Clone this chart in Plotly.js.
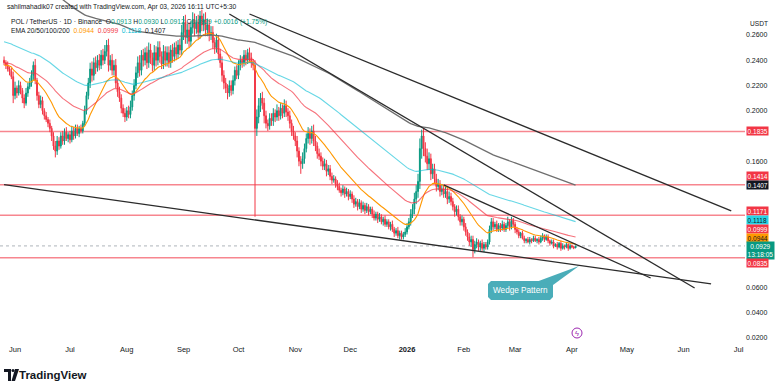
<!DOCTYPE html>
<html><head><meta charset="utf-8">
<script src="https://cdn.plot.ly/plotly-3.0.1.min.js"></script>
<style>html,body{margin:0;padding:0;background:#fff;}#chart{width:783px;height:388px;}</style>
</head><body><div id="chart"></div>
<script>
// ---- data (daily, from 2025-05-26) ----
const startDate = '2025-05-26';
const firstOpen = 0.240;
const closes = [
0.238,0.236,0.233,0.231,0.227,0.212,0.218,0.214,0.220,0.216,
0.210,0.206,0.214,0.219,0.222,0.228,0.236,0.224,0.212,0.205,
0.208,0.200,0.196,0.193,0.190,0.186,0.180,0.172,0.168,0.176,
0.172,0.180,0.176,0.183,0.178,0.181,0.177,0.184,0.180,0.186,
0.182,0.186,0.184,0.190,0.200,0.212,0.222,0.233,0.228,0.238,
0.234,0.240,0.236,0.244,0.240,0.247,0.252,0.236,0.240,0.232,
0.236,0.222,0.215,0.210,0.202,0.198,0.195,0.200,0.197,0.203,
0.212,0.220,0.230,0.238,0.232,0.244,0.240,0.246,0.238,0.248,
0.242,0.236,0.246,0.240,0.250,0.243,0.237,0.247,0.240,0.246,
0.238,0.248,0.243,0.250,0.245,0.252,0.248,0.262,0.270,0.258,
0.264,0.255,0.266,0.272,0.265,0.270,0.262,0.275,0.268,0.272,
0.264,0.268,0.260,0.262,0.254,0.250,0.256,0.245,0.238,0.228,
0.222,0.218,0.214,0.220,0.216,0.224,0.232,0.228,0.236,0.240,
0.238,0.244,0.240,0.246,0.242,0.238,0.236,0.186,0.195,0.204,
0.210,0.206,0.196,0.190,0.188,0.194,0.192,0.198,0.195,0.200,
0.196,0.202,0.198,0.204,0.199,0.196,0.190,0.184,0.180,0.176,
0.168,0.160,0.158,0.162,0.170,0.178,0.182,0.178,0.184,0.176,
0.172,0.166,0.164,0.160,0.156,0.158,0.152,0.154,0.148,0.145,
0.146,0.142,0.140,0.137,0.135,0.138,0.134,0.136,0.132,0.134,
0.130,0.126,0.128,0.124,0.127,0.122,0.125,0.121,0.124,0.120,
0.122,0.118,0.115,0.118,0.114,0.116,0.112,0.114,0.110,0.112,
0.108,0.110,0.106,0.103,0.105,0.101,0.103,0.100,0.102,0.104,
0.108,0.112,0.118,0.122,0.130,0.136,0.144,0.170,0.180,0.170,
0.164,0.158,0.162,0.150,0.154,0.146,0.140,0.142,0.136,0.138,
0.134,0.136,0.130,0.132,0.128,0.124,0.120,0.122,0.116,0.112,
0.114,0.108,0.104,0.100,0.096,0.098,0.090,0.094,0.096,0.092,
0.095,0.091,0.094,0.092,0.096,0.106,0.112,0.108,0.110,0.106,
0.109,0.107,0.110,0.106,0.109,0.112,0.108,0.113,0.110,0.106,
0.104,0.101,0.103,0.099,0.097,0.098,0.096,0.098,0.097,0.099,
0.097,0.098,0.096,0.099,0.101,0.098,0.100,0.097,0.095,0.096,
0.093,0.094,0.092,0.095,0.091,0.093,0.092,0.094,0.091,0.093,
0.092,0.0913,0.0929];
// upper / lower wick lengths, in thousandths
const upWick = [
3,2,3,2,3,4,5,2,4,3, 2,3,4,3,4,4,3,5,2,3, 4,3,2,3,2,3,2,3,4,4, 3,3,4,3,4,2,3,4,3,3,
3,2,3,2,4,3,4,5,6,4, 5,4,5,4,5,5,4,5,4,5, 4,5,3,4,3,3,4,3,4,5, 4,5,5,5,6,4,5,4,5,6,
5,4,6,5,5,5,4,5,4,5, 5,4,5,4,5,4,5,6,5,6, 5,6,5,6,5,5,6,4,5,5, 6,5,4,5,5,4,5,4,4,5,
4,4,3,4,4,4,3,4,4,4, 3,4,4,3,4,4,3,4,6,6, 4,5,4,4,3,4,4,4,3,5, 3,4,3,5,4,3,4,3,4,3,
4,3,4,5,4,4,5,4,4,5, 4,3,4,3,3,4,3,3,3,3, 3,2,3,3,2,3,2,3,2,3, 2,3,3,2,3,2,3,2,3,2,
2,2,3,2,2,3,2,2,3,2, 2,2,3,2,2,3,2,2,2,3, 3,3,4,4,5,5,6,8,5,6, 5,6,5,4,4,4,4,4,3,4,
3,4,3,4,3,3,2,3,3,2, 3,2,3,2,3,3,3,3,3,2, 2,3,2,2,2,3,3,3,2,3, 2,2,3,2,2,4,2,3,2,2,
2,2,1,2,2,1,2,2,1,2, 2,1,2,2,2,1,2,2,1,2, 2,1,2,1,2,2,1,2,1,2, 1,1,0.1];
const lowWick = [
2,3,2,3,2,6,3,4,2,3, 4,4,2,3,2,3,4,3,4,3, 3,3,3,2,3,3,4,3,5,3, 3,2,3,3,2,3,3,2,3,2,
2,3,2,2,2,3,3,4,5,4, 5,3,4,3,4,3,4,5,4,4, 4,4,4,3,4,3,4,3,3,3, 3,4,3,4,5,4,5,4,5,4,
5,5,4,5,4,5,4,4,5,5, 4,4,5,4,5,4,4,4,6,5, 5,5,4,5,6,4,5,5,5,5, 5,5,5,4,5,5,4,5,4,5,
5,4,5,3,4,3,4,3,3,4, 4,3,4,3,4,4,4,70,6,5, 5,5,6,4,4,3,4,4,4,3, 4,3,4,3,4,4,4,4,3,4,
5,4,8,4,4,3,4,5,4,4, 4,4,3,4,3,3,4,3,3,3, 2,3,3,2,3,2,3,2,3,2, 3,3,2,3,2,3,2,3,2,3,
2,3,2,2,3,2,2,3,2,2, 2,3,2,3,2,2,3,2,2,2, 2,2,3,3,4,4,5,6,8,6, 5,5,5,5,4,4,4,3,4,3,
3,3,4,3,3,3,4,3,3,3, 3,3,3,3,3,4,6,3,3,3, 3,2,3,2,2,2,3,3,2,2, 2,3,2,2,2,2,3,2,2,3,
2,2,2,1,2,2,1,2,2,1, 1,2,2,1,2,2,1,2,2,1, 2,1,2,1,2,1,2,1,2,1, 1,1,0.1];
// EMA starting values
const emaPeriods = [20, 50, 100, 200];
const emaSeeds = [0.236, 0.238, 0.255, 0.32];
const emaColors = ['#ff9800', 'rgba(242,54,69,0.7)', 'rgba(0,188,212,0.6)', '#6e6e6e'];
// horizontal levels
const levels = [0.1835, 0.1414, 0.1171, 0.0835];
// trend lines
const tlStartDates = ['2025-05-26', '2025-10-07', '2025-09-26', '2026-01-21'];
const tlStartPrices = [0.1414, 0.2766, 0.2766, 0.1412];
const tlEndDates = ['2026-06-16', '2026-06-27', '2026-06-07', '2026-05-14'];
const tlEndPrices = [0.0628, 0.1206, 0.0596, 0.0675];
const yTicks = [0.02,0.04,0.06,0.16,0.20,0.22,0.24,0.26];
const monthTicks = ['2025-06-01','2025-07-01','2025-08-01','2025-09-01','2025-10-01','2025-11-01','2025-12-01','2026-01-01','2026-02-01','2026-03-01','2026-04-01','2026-05-01','2026-06-01','2026-07-01'];
const monthLabels = ['Jun','Jul','Aug','Sep','Oct','Nov','Dec','<b>2026</b>','Feb','Mar','Apr','May','Jun','Jul'];
const lastPrice = 0.0929;

// ---- build ----
const t0 = Date.UTC(2025,4,26);
const dates = closes.map((_, i) => new Date(t0 + i*86400000).toISOString().slice(0,10));
const opens = closes.map((c, i) => i === 0 ? firstOpen : closes[i-1]);
const highs = closes.map((c, i) => Math.max(c, opens[i]) + upWick[i]/1000);
const lows = closes.map((c, i) => Math.min(c, opens[i]) - lowWick[i]/1000);

const traces = [];
emaPeriods.forEach((n, k) => {
  const a = 2/(n+1); let e = emaSeeds[k]; const arr = [];
  closes.forEach(c => { e = a*c + (1-a)*e; arr.push(e); });
  traces.push({type:'scatter', mode:'lines', x:dates, y:arr, line:{color:emaColors[k], width: k===3?1.3:1.1}, hoverinfo:'skip'});
});
traces.push({type:'candlestick', x:dates, open:opens, high:highs, low:lows, close:closes,
  increasing:{line:{color:'#089981', width:1}, fillcolor:'#089981'},
  decreasing:{line:{color:'#f23645', width:1}, fillcolor:'#f23645'},
  whiskerwidth:0, hoverinfo:'skip'});
tlStartDates.forEach((d, k) => {
  traces.push({type:'scatter', mode:'lines', x:[d, tlEndDates[k]], y:[tlStartPrices[k], tlEndPrices[k]],
    line:{color:'#2b2b2b', width:1.3}, hoverinfo:'skip'});
});

const PW = 745, PH = 343;
const P = (px, py) => ({x: px/PW, y: 1 - py/PH});
const F = 'Liberation Sans, Arial, sans-serif';

const shapes = levels.map(v => ({type:'line', xref:'paper', x0:0, x1:1, yref:'y', y0:v, y1:v,
  line:{color:'rgba(242,54,69,0.6)', width:1.5}, layer:'below'}));
shapes.push({type:'line', xref:'paper', x0:0, x1:1, yref:'y', y0:lastPrice, y1:lastPrice,
  line:{color:'rgba(120,130,140,0.6)', width:1, dash:'dot'}, layer:'below'});
function pathPx(pts){ return 'M' + pts.map(p => { const q = P(p[0], p[1]); return q.x + ',' + q.y; }).join(' L') + ' Z'; }
shapes.push({type:'path', xref:'paper', yref:'paper', path: pathPx([[491,281],[550,281],[553,284],[553,297],[550,300],[491,300],[488,297],[488,284]]),
  fillcolor:'#4aadb9', line:{width:0}});
shapes.push({type:'path', xref:'paper', yref:'paper', path: pathPx([[536,282],[553,285],[579,266]]),
  fillcolor:'#4aadb9', line:{width:0}});
const c1 = P(572,328), c2 = P(582,338);
shapes.push({type:'circle', xref:'paper', yref:'paper', x0:c1.x, y0:c1.y, x1:c2.x, y1:c2.y, line:{color:'#9c27b0', width:1}, fillcolor:'#fff'});
shapes.push({type:'path', xref:'paper', yref:'paper', path: pathPx([[4,369],[11,369],[11,381],[8,381],[8,372],[4,372]]), fillcolor:'#131722', line:{width:0}});
shapes.push({type:'path', xref:'paper', yref:'paper', path: pathPx([[15,369],[19,369],[15,381],[11.5,381]]), fillcolor:'#131722', line:{width:0}});
const d1 = P(11.5,369), d2 = P(14.5,372);
shapes.push({type:'circle', xref:'paper', yref:'paper', x0:d1.x, y0:d1.y, x1:d2.x, y1:d2.y, fillcolor:'#131722', line:{width:0}});

const ann = [];
function txt(px, py, text, size, color, anchor, extra){
  const q = P(px, py);
  ann.push(Object.assign({xref:'paper', yref:'paper', x:q.x, y:q.y, text:text, showarrow:false,
    xanchor:anchor||'left', yanchor:'middle', font:{family:F, size:size, color:color||'#131722'}}, extra||{}));
}
const G = '#089981';
txt(5, 7, 'sahilmahadik07 created with TradingView.com, Apr 03, 2026 16:11 UTC+5:30', 6.7);
txt(9, 22, 'POL / TetherUS · 1D · Binance  O<span style="color:'+G+'">0.0913</span> H<span style="color:'+G+'">0.0930</span> L<span style="color:'+G+'">0.0912</span> C<span style="color:'+G+'">0.0929</span> <span style="color:'+G+'">+0.0016 (+1.75%)</span>', 6.7);
txt(9, 31, 'EMA 20/50/100/200  <span style="color:#ff9800">0.0944</span>  <span style="color:#f23645">0.0999</span>  <span style="color:#00bcd4">0.1118</span>  <span style="color:#131722">0.1407</span>', 6.7);
txt(770, 23, 'USDT', 6.6, '#131722', 'right');
txt(520.5, 290.5, 'Wedge Pattern', 8.2, '#ffffff', 'center');
txt(577, 333, 'ϟ', 7.5, '#9c27b0', 'center');
txt(17, 375, '<b>TradingView</b>', 11.5, '#131722');

// right axis price labels (target pixel centres)
const priceLabels = [
  {v:0.1835, t:'0.1835', bg:'#f23645', fc:'#fff', py:131.5},
  {v:0.1414, t:'0.1414', bg:'#f23645', fc:'#fff', py:176.5},
  {v:0.1407, t:'0.1407', bg:'#131722', fc:'#fff', py:185.5},
  {v:0.1171, t:'0.1171', bg:'#f23645', fc:'#fff', py:211.5},
  {v:0.1118, t:'0.1118', bg:'#26d4e6', fc:'#131722', py:220.5},
  {v:0.0999, t:'0.0999', bg:'#f23645', fc:'#fff', py:229.5},
  {v:0.0944, t:'0.0944', bg:'#ff9800', fc:'#131722', py:238.5},
  {v:0.0929, t:'0.0929<br>13:18:05', bg:'#089981', fc:'#fff', py:250.5},
  {v:0.0835, t:'0.0835', bg:'#f23645', fc:'#fff', py:263.5}
];
const yPix = v => 35 + (0.26 - v) * 1262.5;
priceLabels.forEach(l => ann.push({xref:'paper', x:1, xanchor:'left', xshift:1, yref:'y', y:l.v, yanchor:'middle',
  yshift: yPix(l.v) - l.py, text:l.t, showarrow:false, bgcolor:l.bg, borderpad:0.6, font:{family:F, size:6.5, color:l.fc}}));

const layout = {
  width:783, height:388, margin:{l:0, r:38, t:0, b:45},
  paper_bgcolor:'#ffffff', plot_bgcolor:'#ffffff', showlegend:false,
  xaxis:{type:'date', range:['2025-05-23 19:00','2026-07-04 12:00'], rangeslider:{visible:false},
    tickvals:monthTicks, ticktext:monthLabels, showgrid:false, zeroline:false, showline:false, ticks:'',
    tickfont:{family:F, size:7.5, color:'#131722'}, fixedrange:true},
  yaxis:{side:'right', range:[0.016, 0.2877], tickvals:yTicks, tickformat:'.4f', showgrid:false, zeroline:false,
    showline:false, ticks:'', tickfont:{family:F, size:7, color:'#131722'}, fixedrange:true},
  shapes:shapes, annotations:ann
};
Plotly.newPlot('chart', traces, layout, {staticPlot:true, displayModeBar:false});
</script></body></html>
